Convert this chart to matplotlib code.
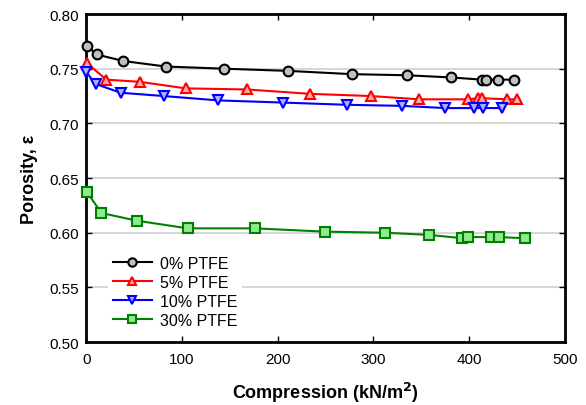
import matplotlib
matplotlib.use("Agg")
import matplotlib.pyplot as plt

plt.rcParams['font.family'] = ['Liberation Sans', 'DejaVu Sans']

# compression (kN/m2) and porosity for each PTFE loading
x_0 = [1, 11, 39, 83, 144, 211, 278, 335, 381, 413, 418, 430, 447]
y_0 = [0.771, 0.763, 0.757, 0.752, 0.750, 0.748, 0.745, 0.744, 0.742, 0.740, 0.740, 0.740, 0.740]

x_5 = [1, 21, 56, 104, 168, 234, 297, 348, 399, 409, 413, 440, 450]
y_5 = [0.755, 0.740, 0.738, 0.732, 0.731, 0.727, 0.725, 0.722, 0.722, 0.723, 0.723, 0.722, 0.722]

x_10 = [0, 10, 36, 81, 138, 206, 272, 330, 375, 405, 414, 434]
y_10 = [0.747, 0.736, 0.728, 0.725, 0.721, 0.719, 0.717, 0.716, 0.714, 0.714, 0.714, 0.714]

x_30 = [1, 16, 53, 106, 176, 249, 312, 358, 393, 399, 423, 431, 458]
y_30 = [0.637, 0.618, 0.611, 0.604, 0.604, 0.601, 0.600, 0.598, 0.595, 0.596, 0.596, 0.596, 0.595]

series = [
    (x_0, y_0, "0% PTFE", "black", "#c0c0c0", "o"),
    (x_5, y_5, "5% PTFE", "red", "#ffb0b0", "^"),
    (x_10, y_10, "10% PTFE", "blue", "#b0b0ff", "v"),
    (x_30, y_30, "30% PTFE", "#008000", "#90e890", "s"),
]

fig = plt.figure(figsize=(5.86, 4.06), dpi=100)
ax = fig.add_axes([0.147, 0.155, 0.817, 0.808])

for xs, ys, label, edge, face, mk in series:
    ax.plot(xs, ys, color=edge, lw=1.5, marker=mk, ms=7, mfc=face, mec=edge,
            mew=1.5, label=label, clip_on=False, zorder=3)

ax.set_xlim(0, 500)
ax.set_ylim(0.50, 0.80)
ax.set_xticks(range(0, 501, 100))
ax.set_yticks([0.50, 0.55, 0.60, 0.65, 0.70, 0.75, 0.80])
ax.yaxis.set_major_formatter(matplotlib.ticker.FormatStrFormatter('%.2f'))
for yv in [0.55, 0.60, 0.65, 0.70, 0.75]:
    ax.axhline(yv, color='#d0d0d0', lw=1.2, zorder=1)

ax.tick_params(direction='in', length=4, width=1, labelsize=11,
               top=True, right=True)
ax.tick_params(axis='x', pad=7)
ax.tick_params(axis='y', pad=5)
for s in ax.spines.values():
    s.set_linewidth(2)

ax.set_xlabel("Compression (kN/m$^\\mathbf{2}$)", fontsize=13, fontweight='bold', labelpad=10)
ax.set_ylabel("Porosity, ε", fontsize=13, fontweight='bold', labelpad=8)

leg = ax.legend(loc='lower left', bbox_to_anchor=(0.03, 0.005), fontsize=11.5,
                frameon=True, framealpha=1, edgecolor='none', facecolor='white',
                handlelength=2.4, handletextpad=0.5, labelspacing=0.25,
                borderpad=0.3, fancybox=False)
leg.set_zorder(2)
for h in leg.legend_handles:
    h.set_markersize(6)

fig.savefig("out.png", dpi=100)
